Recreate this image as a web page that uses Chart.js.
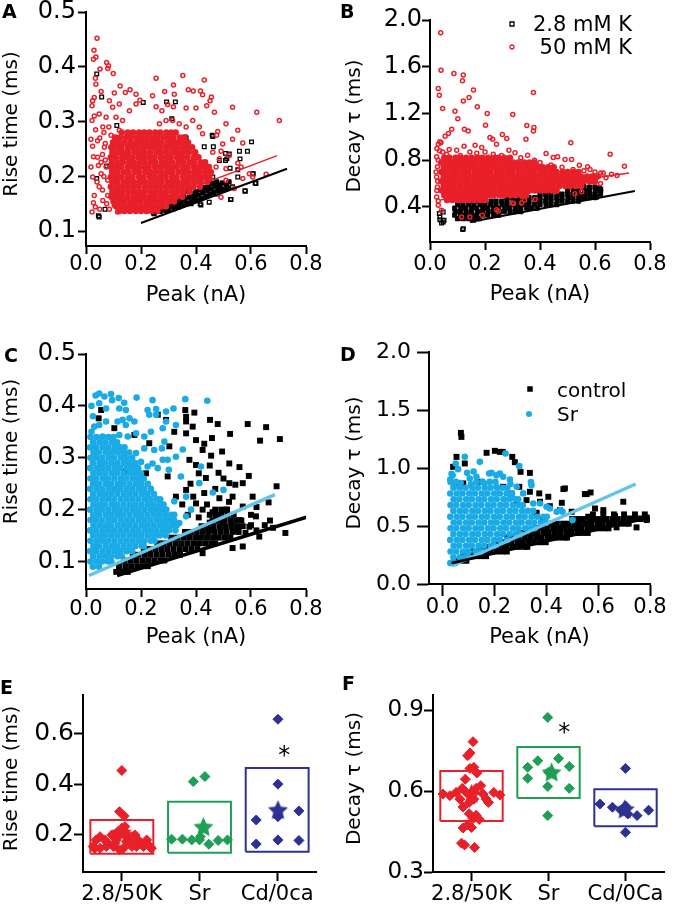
<!DOCTYPE html>
<html>
<head>
<meta charset="utf-8">
<title>Rise time and decay vs peak</title>
<script src="https://cdn.jsdelivr.net/npm/chart.js@4.4.1/dist/chart.umd.min.js"></script>
<style>
  html, body { margin: 0; padding: 0; background: #fff; }
  #fig { position: relative; width: 675px; height: 906px; overflow: hidden; }
  #fig canvas { position: absolute; left: 0; top: 0; }
</style>
</head>
<body>
<div id="fig">
  <canvas id="panelA" width="675" height="906"></canvas>
  <canvas id="panelB" width="675" height="906"></canvas>
  <canvas id="panelC" width="675" height="906"></canvas>
  <canvas id="panelD" width="675" height="906"></canvas>
  <canvas id="panelE" width="675" height="906"></canvas>
  <canvas id="panelF" width="675" height="906"></canvas>
</div>
<script>
// ---------- axis ticks / categories ----------
var peakTicks = [0, 0.2, 0.4, 0.6, 0.8];
var riseTicks = [0.1, 0.2, 0.3, 0.4, 0.5];
var decayTicksB = [0.4, 0.8, 1.2, 1.6, 2.0];
var decayTicksD = [0, 0.5, 1.0, 1.5, 2.0];
var riseTicksE = [0.2, 0.4, 0.6];
var decayTicksF = [0.3, 0.6, 0.9];
var groupTicks = [1, 2, 3];
var groupsE = ['2.8/50K', 'Sr', 'Cd/0ca'];
var groupsF = ['2.8/50K', 'Sr', 'Cd/0Ca'];

// ---------- panel A : rise time vs peak (2.8 mM K / 50 mM K) ----------
var aFitBlack = [[0.2, 0.115], [0.731, 0.214]];
var aFitRed = [[0.15, 0.134], [0.695, 0.238]];
var aBlack = [[0.039,0.387],[0.057,0.345],[0.293,0.336],[0.36,0.272],[0.459,0.275],[0.43,0.254],[0.463,0.254],[0.507,0.242],[0.512,0.232],[0.524,0.215],[0.552,0.212],[0.56,0.232],[0.587,0.246],[0.602,0.263],[0.608,0.205],[0.615,0.188],[0.578,0.174],[0.526,0.158],[0.415,0.15],[0.382,0.15],[0.291,0.15],[0.245,0.133],[0.045,0.128],[0.069,0.14],[0.039,0.196],[0.075,0.219],[0.112,0.293],[0.312,0.305],[0.208,0.335],[0.325,0.336],[0.364,0.27],[0.461,0.273],[0.558,0.246],[0.521,0.241],[0.507,0.229],[0.485,0.229],[0.461,0.199],[0.552,0.199],[0.606,0.205],[0.618,0.187],[0.579,0.173],[0.527,0.158],[0.048,0.126],[0.248,0.132],[0.339,0.147],[0.364,0.15],[0.418,0.148],[0.448,0.153],[0.473,0.168],[0.497,0.175],[0.533,0.181]];
var aBlackBand = [[0.30,0.140],[0.31,0.146],[0.32,0.141],[0.33,0.150],[0.335,0.144],[0.345,0.153],[0.35,0.147],[0.36,0.158],[0.365,0.150],[0.375,0.162],[0.38,0.152],[0.385,0.168],[0.39,0.157],[0.395,0.163],[0.40,0.172],[0.405,0.156],[0.41,0.166],[0.415,0.176],[0.42,0.160],[0.425,0.170],[0.43,0.180],[0.435,0.164],[0.44,0.174],[0.445,0.184],[0.45,0.167],[0.455,0.177],[0.46,0.187],[0.465,0.171],[0.47,0.181],[0.475,0.19],[0.48,0.174],[0.485,0.184],[0.49,0.178],[0.495,0.188],[0.50,0.176],[0.51,0.185],[0.515,0.179],[0.52,0.19],[0.37,0.173],[0.355,0.166],[0.34,0.16],[0.325,0.155],[0.31,0.153],[0.29,0.138],[0.28,0.145],[0.27,0.136],[0.26,0.142],[0.25,0.135],[0.24,0.138]];
var aRed = [[0.040,0.452],[0.029,0.430],[0.036,0.418],[0.027,0.414],[0.075,0.408],[0.082,0.402],[0.079,0.397],[0.051,0.396],[0.099,0.388],[0.034,0.379],[0.036,0.368],[0.255,0.379],[0.352,0.384],[0.430,0.376],[0.124,0.365],[0.160,0.358],[0.143,0.353],[0.055,0.355],[0.103,0.352],[0.182,0.350],[0.286,0.355],[0.318,0.367],[0.321,0.350],[0.372,0.358],[0.390,0.356],[0.416,0.356],[0.424,0.349],[0.456,0.345],[0.451,0.338],[0.242,0.347],[0.297,0.331],[0.196,0.339],[0.255,0.327],[0.276,0.320],[0.318,0.327],[0.364,0.325],[0.400,0.325],[0.439,0.329],[0.467,0.317],[0.533,0.326],[0.621,0.317],[0.703,0.302],[0.509,0.296],[0.552,0.284],[0.570,0.261],[0.533,0.268],[0.479,0.282],[0.475,0.275],[0.497,0.259],[0.491,0.246],[0.022,0.329],[0.024,0.338],[0.030,0.344],[0.048,0.314],[0.022,0.302],[0.018,0.268],[0.024,0.255],[0.027,0.236],[0.018,0.217],[0.024,0.199],[0.055,0.226],[0.048,0.181],[0.030,0.165],[0.027,0.152],[0.022,0.135],[0.034,0.144],[0.061,0.156],[0.079,0.165],[0.103,0.147],[0.115,0.135],[0.127,0.168],[0.485,0.232],[0.521,0.238],[0.552,0.224],[0.594,0.205],[0.655,0.204],[0.570,0.196],[0.539,0.178],[0.509,0.193],[0.491,0.162],[0.606,0.199],[0.388,0.302],[0.412,0.290],[0.424,0.278],[0.364,0.290],[0.339,0.296],[0.315,0.302],[0.291,0.302],[0.267,0.296],[0.182,0.332],[0.158,0.320],[0.121,0.332],[0.097,0.326],[0.085,0.338],[0.073,0.308],[0.133,0.302],[0.109,0.308],[0.061,0.290],[0.091,0.275],[0.121,0.284],[0.067,0.253],[0.042,0.265],[0.042,0.235],[0.097,0.241],[0.073,0.217],[0.055,0.205],[0.079,0.193],[0.097,0.175],[0.103,0.199],[0.115,0.223],[0.473,0.217],[0.461,0.244],[0.509,0.214],[0.564,0.217],[0.035,0.285],[0.05,0.27],[0.065,0.28],[0.06,0.24],[0.045,0.22],[0.07,0.23],[0.065,0.2],[0.04,0.19],[0.06,0.175],[0.075,0.15],[0.05,0.14],[0.085,0.14],[0.07,0.26],[0.083,0.29],[0.03,0.31]];
var aRedRowY = [0.280,0.271,0.262,0.253,0.244,0.235,0.226,0.217,0.208,0.199,0.190,0.181,0.172,0.163,0.154,0.145,0.137];
var aRedRowX = [
  [0.13,0.152,0.171,0.193,0.212,0.231,0.252,0.27,0.292,0.31,0.326],
  [0.106,0.124,0.146,0.163,0.185,0.203,0.221,0.242,0.26,0.281,0.302,0.318,0.341,0.358],
  [0.098,0.118,0.139,0.161,0.179,0.198,0.217,0.236,0.257,0.274,0.296,0.314,0.333,0.352,0.371],
  [0.092,0.111,0.129,0.152,0.17,0.188,0.209,0.229,0.248,0.268,0.289,0.308,0.327,0.349,0.366,0.386],
  [0.096,0.117,0.136,0.154,0.176,0.194,0.213,0.234,0.256,0.273,0.294,0.316,0.334,0.353,0.374,0.397],
  [0.09,0.108,0.131,0.149,0.168,0.19,0.21,0.229,0.249,0.271,0.29,0.308,0.331,0.348,0.368,0.391,0.409],
  [0.094,0.116,0.134,0.157,0.174,0.196,0.214,0.236,0.253,0.276,0.294,0.314,0.336,0.354,0.376,0.393,0.416,0.433],
  [0.091,0.109,0.128,0.151,0.171,0.189,0.211,0.228,0.251,0.269,0.291,0.309,0.329,0.351,0.369,0.391,0.41,0.428,0.447],
  [0.095,0.114,0.136,0.154,0.176,0.194,0.216,0.234,0.254,0.275,0.296,0.314,0.336,0.356,0.374,0.396,0.414,0.436,0.454],
  [0.09,0.111,0.129,0.151,0.169,0.192,0.209,0.231,0.249,0.27,0.289,0.311,0.329,0.352,0.369,0.389,0.411,0.43,0.449],
  [0.096,0.114,0.136,0.156,0.174,0.196,0.214,0.236,0.256,0.274,0.296,0.316,0.334,0.356,0.374,0.396,0.417,0.441],
  [0.09,0.112,0.13,0.149,0.171,0.19,0.212,0.229,0.251,0.269,0.291,0.31,0.331,0.349,0.371,0.39,0.414],
  [0.096,0.116,0.134,0.156,0.175,0.196,0.214,0.236,0.255,0.276,0.294,0.316,0.334,0.354,0.377],
  [0.092,0.11,0.131,0.15,0.172,0.189,0.21,0.231,0.249,0.27,0.29,0.31,0.329,0.35],
  [0.1,0.121,0.139,0.161,0.18,0.199,0.221,0.24,0.261,0.279,0.301,0.32],
  [0.11,0.13,0.151,0.17,0.19,0.211,0.229,0.25,0.27,0.29],
  [0.121,0.14,0.16,0.181,0.2,0.22,0.239,0.26]
];

// ---------- panel B : decay tau vs peak ----------
var bFitBlack = [[0.145, 0.271], [0.745, 0.537]];
var bFitRed = [[0.04, 0.462], [0.724, 0.691]];
var bBlack = [[0.119,0.206],[0.042,0.263],[0.036,0.291],[0.051,0.286],[0.034,0.343],[0.048,0.357],[0.112,0.3],[0.158,0.286],[0.145,0.329],[0.606,0.543],[0.621,0.551],[0.606,0.486],[0.555,0.571],[0.558,0.486],[0.576,0.491],[0.533,0.543],[0.606,0.557],[0.616,0.563],[0.6,0.486],[0.558,0.591],[0.57,0.486],[0.539,0.529],[0.036,0.314],[0.048,0.271],[0.121,0.214]];
var bBlackRowY = [0.30,0.33,0.36,0.39,0.42,0.45,0.48,0.51,0.54,0.57];
var bBlackRowX = [
  [0.10,0.121,0.14,0.162,0.18],
  [0.09,0.111,0.13,0.152,0.17,0.191,0.21,0.232,0.25],
  [0.092,0.11,0.131,0.15,0.172,0.19,0.211,0.23,0.252,0.27,0.291,0.31,0.33],
  [0.09,0.112,0.13,0.151,0.17,0.192,0.21,0.231,0.25,0.272,0.29,0.311,0.33,0.352,0.37,0.39],
  [0.101,0.12,0.141,0.16,0.182,0.2,0.221,0.24,0.262,0.28,0.301,0.32,0.342,0.36,0.381,0.4,0.422,0.44,0.461],
  [0.16,0.181,0.2,0.222,0.24,0.261,0.28,0.302,0.32,0.341,0.36,0.382,0.4,0.421,0.44,0.462,0.48,0.501,0.52,0.54],
  [0.28,0.301,0.32,0.342,0.36,0.381,0.4,0.422,0.44,0.461,0.48,0.502,0.52,0.541,0.56,0.582,0.6],
  [0.40,0.421,0.44,0.462,0.48,0.501,0.52,0.542,0.56,0.581,0.6,0.62],
  [0.50,0.521,0.54,0.562,0.58,0.601,0.62],
  [0.56,0.58,0.6]
];
var bRed = [[0.039,1.891],[0.040,1.571],[0.087,1.543],[0.121,1.529],[0.118,1.48],[0.030,1.414],[0.034,1.357],[0.158,1.4],[0.142,1.337],[0.121,1.306],[0.376,1.38],[0.046,1.243],[0.172,1.257],[0.208,1.2],[0.091,1.22],[0.101,1.154],[0.301,1.191],[0.202,1.1],[0.352,1.097],[0.378,1.08],[0.376,1.049],[0.349,0.98],[0.125,1.066],[0.139,1.049],[0.079,1.066],[0.067,1.029],[0.055,1.006],[0.036,0.957],[0.030,0.937],[0.218,0.994],[0.228,0.98],[0.263,1.02],[0.279,0.986],[0.242,0.937],[0.164,0.929],[0.188,0.909],[0.124,0.92],[0.512,0.949],[0.287,0.886],[0.309,0.863],[0.355,0.843],[0.422,0.857],[0.448,0.823],[0.464,0.829],[0.491,0.806],[0.515,0.806],[0.543,0.757],[0.573,0.743],[0.582,0.72],[0.6,0.657],[0.621,0.691],[0.655,0.851],[0.707,0.749],[0.533,0.68],[0.145,0.871],[0.097,0.886],[0.07,0.891],[0.046,0.871],[0.024,0.829],[0.027,0.743],[0.024,0.657],[0.027,0.571],[0.024,0.486],[0.03,0.414],[0.042,0.371],[0.145,0.314],[0.248,0.363],[0.303,0.429],[0.333,0.434],[0.461,0.534],[0.552,0.529],[0.594,0.614],[0.115,0.314],[0.19,0.329],[0.242,0.377],[0.3,0.434],[0.343,0.457],[0.382,0.463],[0.527,0.514],[0.025,0.9],[0.03,0.8],[0.022,0.7],[0.028,0.62],[0.025,0.54],[0.03,0.45],[0.035,0.88],[0.04,0.95],[0.17,0.86],[0.2,0.87],[0.23,0.85],[0.26,0.84],[0.33,0.82],[0.38,0.8],[0.4,0.78],[0.06,0.85],[0.11,0.84],[0.44,0.76],[0.48,0.74],[0.52,0.72],[0.56,0.71],[0.6,0.7],[0.63,0.69],[0.66,0.68],[0.64,0.65],[0.58,0.63],[0.62,0.6],[0.68,0.67]];
var bRedRowY = [0.82,0.78,0.74,0.70,0.66,0.62,0.58,0.54,0.50,0.46];
var bRedRowX = [
  [0.052,0.071,0.093,0.112,0.131,0.152,0.172,0.19,0.211,0.232,0.249,0.27,0.291],
  [0.041,0.062,0.081,0.102,0.121,0.142,0.161,0.182,0.201,0.222,0.241,0.262,0.281,0.302,0.321,0.342,0.361,0.38],
  [0.05,0.071,0.09,0.112,0.13,0.151,0.17,0.192,0.21,0.231,0.25,0.272,0.29,0.311,0.33,0.352,0.37,0.391,0.41,0.43,0.45],
  [0.041,0.061,0.082,0.1,0.121,0.14,0.162,0.18,0.201,0.22,0.242,0.26,0.281,0.3,0.322,0.34,0.361,0.38,0.402,0.42,0.441,0.46,0.482,0.5,0.521,0.54],
  [0.05,0.07,0.091,0.11,0.131,0.15,0.171,0.19,0.211,0.23,0.251,0.27,0.291,0.31,0.331,0.35,0.371,0.39,0.411,0.43,0.451,0.47,0.491,0.51,0.531,0.55,0.571,0.59,0.61],
  [0.041,0.062,0.08,0.101,0.122,0.14,0.161,0.182,0.2,0.221,0.242,0.26,0.281,0.302,0.32,0.341,0.362,0.38,0.401,0.422,0.44,0.461,0.482,0.5,0.521,0.542,0.56,0.58,0.6],
  [0.05,0.071,0.09,0.111,0.132,0.15,0.171,0.192,0.21,0.231,0.252,0.27,0.291,0.312,0.33,0.351,0.372,0.39,0.411,0.432,0.45,0.471,0.492,0.51,0.53,0.55],
  [0.042,0.061,0.082,0.101,0.122,0.141,0.162,0.181,0.202,0.221,0.242,0.261,0.282,0.301,0.322,0.341,0.362,0.381,0.402,0.421,0.442,0.46],
  [0.052,0.071,0.092,0.111,0.132,0.151,0.172,0.191,0.212,0.231,0.252,0.271,0.292,0.311,0.332,0.35],
  [0.062,0.081,0.102,0.121,0.142,0.161,0.182,0.2]
];

// ---------- panel C : rise time vs peak (control / Sr) ----------
var cFitBlack = [[0.113, 0.073], [0.818, 0.188]];
var cFitBlue = [[0.011, 0.073], [0.687, 0.229]];
var cBlack = [[0.046,0.376],[0.055,0.392],[0.103,0.357],[0.176,0.344],[0.261,0.383],[0.291,0.373],[0.361,0.392],[0.364,0.379],[0.394,0.387],[0.364,0.37],[0.388,0.36],[0.451,0.373],[0.479,0.365],[0.588,0.365],[0.655,0.359],[0.524,0.346],[0.458,0.338],[0.633,0.333],[0.705,0.336],[0.43,0.327],[0.424,0.315],[0.455,0.304],[0.495,0.312],[0.364,0.347],[0.4,0.334],[0.321,0.35],[0.23,0.328],[0.303,0.322],[0.376,0.296],[0.4,0.286],[0.521,0.289],[0.558,0.282],[0.592,0.265],[0.482,0.271],[0.436,0.261],[0.521,0.251],[0.543,0.248],[0.57,0.251],[0.693,0.245],[0.606,0.225],[0.664,0.214],[0.618,0.187],[0.669,0.179],[0.725,0.155],[0.533,0.225],[0.485,0.222],[0.57,0.206],[0.43,0.232],[0.4,0.212],[0.364,0.238],[0.297,0.264],[0.218,0.27],[0.327,0.225],[0.424,0.2],[0.473,0.187],[0.497,0.174],[0.558,0.18],[0.594,0.167],[0.57,0.129],[0.533,0.126],[0.63,0.148],[0.461,0.161],[0.424,0.116],[0.17,0.283],[0.145,0.273],[0.38,0.25],[0.41,0.27],[0.45,0.285],[0.47,0.24],[0.5,0.26],[0.44,0.21],[0.46,0.195],[0.51,0.2],[0.52,0.215],[0.39,0.225],[0.35,0.21],[0.37,0.19],[0.41,0.185],[0.45,0.175],[0.53,0.17],[0.6,0.19],[0.62,0.205],[0.65,0.17],[0.58,0.155],[0.62,0.16],[0.68,0.165],[0.55,0.16],[0.6,0.17]];
var cBlackRowY = [0.080,0.091,0.102,0.113,0.124,0.135,0.146,0.157,0.168,0.179,0.19,0.2];
var cBlackRowX = [
  [0.11,0.131,0.152],
  [0.12,0.143,0.164,0.186,0.207,0.225],
  [0.14,0.162,0.183,0.205,0.226,0.248,0.27,0.285],
  [0.17,0.191,0.214,0.235,0.257,0.278,0.3,0.321,0.342],
  [0.21,0.232,0.253,0.275,0.296,0.318,0.34,0.361,0.383,0.405],
  [0.26,0.281,0.303,0.325,0.346,0.368,0.39,0.411,0.433,0.455,0.47],
  [0.31,0.332,0.354,0.375,0.397,0.418,0.44,0.462,0.483,0.505,0.525],
  [0.36,0.381,0.403,0.425,0.446,0.468,0.49,0.511,0.533,0.555],
  [0.42,0.441,0.463,0.485,0.506,0.528,0.55,0.57],
  [0.46,0.482,0.503,0.525,0.546,0.565],
  [0.45,0.472,0.493,0.515,0.537],
  [0.47,0.492,0.513]
];
var cBlue = [[0.048,0.424],[0.067,0.418],[0.091,0.423],[0.095,0.411],[0.119,0.415],[0.139,0.406],[0.184,0.416],[0.242,0.411],[0.361,0.413],[0.441,0.41],[0.048,0.405],[0.073,0.395],[0.121,0.395],[0.145,0.392],[0.224,0.392],[0.255,0.394],[0.291,0.389],[0.318,0.395],[0.255,0.383],[0.23,0.383],[0.133,0.373],[0.158,0.376],[0.176,0.37],[0.145,0.363],[0.115,0.37],[0.073,0.37],[0.048,0.363],[0.291,0.37],[0.327,0.363],[0.279,0.357],[0.236,0.35],[0.212,0.341],[0.182,0.347],[0.152,0.341],[0.121,0.344],[0.097,0.338],[0.061,0.341],[0.285,0.331],[0.276,0.318],[0.352,0.316],[0.248,0.315],[0.212,0.318],[0.182,0.309],[0.133,0.315],[0.097,0.312],[0.327,0.302],[0.297,0.296],[0.279,0.296],[0.242,0.289],[0.261,0.28],[0.301,0.277],[0.418,0.283],[0.345,0.264],[0.412,0.251],[0.461,0.233],[0.5,0.238],[0.364,0.225],[0.321,0.216],[0.382,0.2],[0.364,0.187],[0.339,0.174],[0.321,0.19],[0.224,0.283],[0.2,0.292],[0.02,0.4],[0.025,0.38],[0.03,0.36],[0.02,0.35],[0.035,0.42]];
var cBlueRowY = [0.34,0.33,0.32,0.31,0.30,0.29,0.28,0.27,0.26,0.25,0.24,0.23,0.22,0.21,0.20,0.19,0.18,0.17,0.16,0.15,0.14,0.13,0.12,0.11,0.10,0.09];
var cBlueRowX = [
  [0.016,0.038,0.058,0.082,0.1],
  [0.026,0.049,0.07,0.093,0.113],
  [0.015,0.036,0.06,0.081,0.104,0.124,0.14],
  [0.027,0.047,0.071,0.091,0.115,0.136,0.157],
  [0.016,0.037,0.059,0.082,0.102,0.126,0.146,0.168],
  [0.025,0.049,0.069,0.092,0.114,0.137,0.157,0.179],
  [0.015,0.038,0.058,0.081,0.104,0.125,0.148,0.168,0.19],
  [0.027,0.048,0.07,0.093,0.113,0.136,0.159,0.18,0.2],
  [0.016,0.036,0.06,0.08,0.103,0.126,0.147,0.17,0.19,0.21],
  [0.026,0.047,0.071,0.091,0.115,0.135,0.158,0.181,0.202,0.225],
  [0.015,0.038,0.059,0.082,0.103,0.124,0.147,0.169,0.192,0.212,0.236],
  [0.026,0.049,0.07,0.092,0.114,0.137,0.158,0.18,0.203,0.224,0.247],
  [0.016,0.037,0.06,0.081,0.102,0.126,0.148,0.169,0.191,0.214,0.235,0.257,0.27],
  [0.027,0.048,0.069,0.093,0.113,0.136,0.159,0.18,0.202,0.225,0.246,0.268,0.282],
  [0.015,0.038,0.058,0.081,0.104,0.125,0.147,0.17,0.191,0.213,0.236,0.258,0.279,0.292],
  [0.026,0.047,0.071,0.092,0.114,0.135,0.158,0.181,0.202,0.224,0.247,0.268,0.29,0.31],
  [0.016,0.036,0.059,0.082,0.103,0.126,0.148,0.169,0.192,0.213,0.235,0.258,0.28,0.301,0.32],
  [0.027,0.049,0.07,0.091,0.115,0.137,0.158,0.18,0.203,0.224,0.246,0.269,0.29,0.312,0.33],
  [0.015,0.037,0.06,0.081,0.102,0.125,0.147,0.17,0.191,0.214,0.236,0.257,0.28,0.302,0.325],
  [0.026,0.048,0.069,0.092,0.114,0.136,0.159,0.181,0.202,0.225,0.247,0.268,0.29],
  [0.016,0.038,0.059,0.08,0.103,0.126,0.148,0.17,0.192,0.213,0.236,0.25],
  [0.027,0.047,0.071,0.093,0.113,0.136,0.158,0.18,0.203,0.21],
  [0.015,0.036,0.06,0.082,0.104,0.125,0.147,0.168],
  [0.026,0.049,0.07,0.091,0.114,0.13],
  [0.016,0.038,0.058,0.08,0.092],
  [0.025,0.047]
];

// ---------- panel D : decay tau vs peak (control / Sr) ----------
var dFitBlack = [[0.035, 0.18], [0.795, 0.57]];
var dFitBlue = [[0.035, 0.155], [0.745, 0.862]];
var dBlack = [[0.071,1.303],[0.073,1.268],[0.054,1.096],[0.086,1.039],[0.17,1.131],[0.202,1.148],[0.232,1.139],[0.269,1.096],[0.301,0.967],[0.337,0.958],[0.296,0.838],[0.337,0.795],[0.373,0.781],[0.408,0.752],[0.466,0.818],[0.556,0.775],[0.571,0.789],[0.697,0.709],[0.588,0.651],[0.562,0.58],[0.665,0.585],[0.671,0.488],[0.723,0.565],[0.761,0.565],[0.498,0.623],[0.453,0.637],[0.324,0.723],[0.286,0.694],[0.234,0.838],[0.15,0.881],[0.08,0.867],[0.048,0.852],[0.041,1.01],[0.363,0.614],[0.388,0.551],[0.466,0.494],[0.517,0.522],[0.614,0.551],[0.646,0.522],[0.748,0.488],[0.787,0.551],[0.221,1.139],[0.279,1.05],[0.472,0.824],[0.549,0.775],[0.46,0.7],[0.414,0.671],[0.376,0.709],[0.266,0.78],[0.62,0.637],[0.787,0.574]];
var dBlackRowY = [0.20,0.24,0.28,0.32,0.36,0.40,0.44,0.48,0.52,0.56,0.60];
var dBlackRowX = [
  [0.05,0.071,0.092],
  [0.08,0.103,0.124,0.147,0.168],
  [0.12,0.141,0.165,0.186,0.209,0.23,0.248],
  [0.16,0.183,0.204,0.227,0.248,0.271,0.292,0.315,0.327],
  [0.2,0.221,0.245,0.266,0.289,0.31,0.333,0.354,0.377,0.398],
  [0.25,0.273,0.294,0.317,0.338,0.361,0.382,0.405,0.426,0.449,0.47,0.48],
  [0.3,0.321,0.345,0.366,0.389,0.41,0.433,0.454,0.477,0.498,0.521,0.542,0.56],
  [0.36,0.383,0.404,0.427,0.448,0.471,0.492,0.515,0.536,0.559,0.58,0.603,0.624,0.64],
  [0.42,0.441,0.465,0.486,0.509,0.53,0.553,0.574,0.597,0.618,0.641,0.662,0.685,0.706,0.718],
  [0.5,0.523,0.544,0.567,0.588,0.611,0.632,0.655,0.676,0.699,0.72,0.743,0.764,0.79],
  [0.58,0.62,0.661,0.7,0.742,0.78]
];
var dBlue = [[0.051,1.039],[0.086,1.096],[0.243,1.125],[0.296,1.016],[0.262,0.861],[0.343,0.852],[0.376,0.694],[0.414,0.651],[0.455,0.637],[0.501,0.551],[0.039,0.938],[0.044,0.838],[0.095,0.958],[0.105,0.91],[0.131,0.924],[0.18,0.953],[0.208,0.938],[0.234,0.924],[0.161,0.867],[0.208,0.838],[0.286,0.838],[0.311,0.781],[0.266,0.752],[0.35,0.694],[0.401,0.666],[0.44,0.623],[0.341,0.878],[0.26,0.9],[0.463,0.623],[0.144,1.053],[0.189,0.958],[0.221,0.953],[0.03,0.9],[0.035,0.95],[0.06,0.99],[0.11,0.86],[0.12,0.97],[0.07,0.87]];
var dBlueRowY = [0.88,0.83,0.78,0.73,0.68,0.63,0.58,0.53,0.48,0.43,0.38,0.33,0.28,0.23,0.18];
var dBlueRowX = [
  [0.031,0.052,0.131,0.154,0.182,0.204],
  [0.042,0.067,0.089,0.115,0.137,0.163,0.185,0.211,0.233,0.25],
  [0.03,0.055,0.077,0.103,0.125,0.151,0.173,0.199,0.221,0.247,0.268],
  [0.043,0.065,0.091,0.113,0.139,0.161,0.187,0.209,0.235,0.257,0.281,0.292],
  [0.031,0.053,0.079,0.101,0.127,0.149,0.175,0.197,0.223,0.245,0.271,0.293,0.31],
  [0.042,0.067,0.089,0.115,0.137,0.163,0.185,0.211,0.233,0.259,0.281,0.307,0.329,0.35],
  [0.03,0.055,0.077,0.103,0.125,0.151,0.173,0.199,0.221,0.247,0.269,0.295,0.317,0.343,0.365,0.389,0.402],
  [0.043,0.065,0.091,0.113,0.139,0.161,0.187,0.209,0.235,0.257,0.283,0.305,0.331,0.353,0.379,0.398],
  [0.031,0.053,0.079,0.101,0.127,0.149,0.175,0.197,0.223,0.245,0.271,0.293,0.319,0.341,0.355],
  [0.042,0.067,0.089,0.115,0.137,0.163,0.185,0.211,0.233,0.259,0.281,0.3],
  [0.03,0.055,0.077,0.103,0.125,0.151,0.173,0.199,0.221,0.249],
  [0.043,0.065,0.091,0.113,0.139,0.161,0.187,0.2],
  [0.031,0.053,0.079,0.101,0.127,0.149],
  [0.042,0.067,0.089,0.1],
  [0.03,0.05]
];

// ---------- panels E / F : per-cell means ----------
var eRed = [[1.0,0.455],[0.97,0.292],[1.03,0.275],[0.63,0.154],[0.67,0.18],[0.72,0.193],[0.78,0.18],[0.82,0.167],[0.87,0.2],[0.91,0.193],[0.95,0.213],[1.0,0.226],[1.04,0.233],[1.05,0.207],[1.08,0.187],[1.13,0.193],[1.17,0.2],[1.21,0.18],[1.25,0.167],[1.32,0.18],[1.36,0.154],[1.38,0.147],[1.02,0.147],[0.97,0.141],[0.89,0.154],[0.8,0.154],[0.72,0.147],[0.65,0.147],[0.93,0.18],[1.13,0.154],[1.19,0.154],[1.28,0.154],[1.34,0.16],[1.06,0.173],[1.15,0.173],[0.91,0.167]];
var eGreen = [[1.92,0.411],[2.07,0.431],[1.64,0.183],[1.78,0.183],[1.9,0.18],[2.01,0.193],[2.12,0.163],[2.24,0.178],[2.36,0.18],[2.0,0.18]];
var eNavy = [[3.01,0.658],[3.01,0.401],[2.73,0.259],[3.28,0.295],[2.73,0.164],[3.01,0.18],[3.28,0.178],[3.01,0.272]];
var eBoxLow = [0.125, 0.129, 0.133];
var eBoxHigh = [0.259, 0.331, 0.465];
var eMeanX = [1.0, 2.05, 3.01];
var eMeanY = [0.21, 0.232, 0.299];
var eSignif = [[3.09, 0.537]];

var fRed = [[1.02,0.783],[0.98,0.741],[0.95,0.731],[1.03,0.688],[0.98,0.684],[1.07,0.667],[0.92,0.644],[0.63,0.589],[0.72,0.583],[0.8,0.595],[0.88,0.61],[0.93,0.595],[0.85,0.57],[1.0,0.595],[1.06,0.61],[1.12,0.62],[1.15,0.589],[1.19,0.57],[1.22,0.558],[1.29,0.595],[1.37,0.585],[1.03,0.57],[0.97,0.558],[0.89,0.541],[0.97,0.516],[1.06,0.51],[1.02,0.498],[1.1,0.495],[0.95,0.474],[0.89,0.463],[1.0,0.465],[0.87,0.407],[1.04,0.391],[0.91,0.4]];
var fGreen = [[1.99,0.873],[1.73,0.688],[1.86,0.712],[2.13,0.721],[2.27,0.691],[1.73,0.647],[1.99,0.617],[2.27,0.61],[1.99,0.509],[2.0,0.67]];
var fNavy = [[3.0,0.684],[2.67,0.552],[2.83,0.54],[2.94,0.529],[3.03,0.515],[3.15,0.509],[3.3,0.529],[3.0,0.447],[3.0,0.545]];
var fBoxLow = [0.489, 0.574, 0.470];
var fBoxHigh = [0.674, 0.763, 0.607];
var fMeanX = [1.0, 2.04, 2.99];
var fMeanY = [0.59, 0.67, 0.533];
var fSignif = [[2.205, 0.838]];

// ---------- styling ----------
var FONT = 'DejaVu Sans';
var RED = '#e8202a', BLACK = '#000000', BLUE = '#1aabe6', LBLUE = '#63c4e8', GREEN = '#1f9e55', NAVY = '#2d3192';
Chart.defaults.font.family = FONT;
Chart.defaults.color = '#000';

function pts(list) {
  return list.map(function (p) { return {x: p[0], y: p[1]}; });
}
function rows(ys, xs) {
  var out = [];
  for (var i = 0; i < ys.length; i++) {
    for (var j = 0; j < xs[i].length; j++) out.push({x: xs[i][j], y: ys[i]});
  }
  return out;
}
function lift(text, n) {
  return '\u2002'.repeat(n) + text;
}

function dots(data, style, r, color, filled, bw, order) {
  return {
    data: data, showLine: false, order: order,
    pointStyle: style, pointRadius: r, pointBorderWidth: bw,
    pointBorderColor: color, pointBackgroundColor: filled ? color : 'rgba(0,0,0,0)'
  };
}
function line(data, color, w, order) {
  return {data: data, showLine: true, borderColor: color, borderWidth: w, pointRadius: 0, order: order, fill: false};
}
function boxes(centers, lo, hi, colors) {
  return centers.map(function (c, i) {
    var d = [[c - 0.405, lo[i]], [c + 0.405, lo[i]], [c + 0.405, hi[i]], [c - 0.405, hi[i]], [c - 0.405, lo[i]]];
    return line(pts(d), colors[i], 2, 3);
  });
}
function starImage(color, r) {
  var c = document.createElement('canvas');
  var s = Math.ceil(2 * r + 2);
  c.width = s; c.height = s;
  var g = c.getContext('2d');
  g.fillStyle = color;
  g.beginPath();
  for (var i = 0; i < 10; i++) {
    var a = -Math.PI / 2 + i * Math.PI / 5;
    var rr = i % 2 ? r * 0.48 : r;
    g.lineTo(s / 2 + rr * Math.cos(a), s / 2 + rr * Math.sin(a) + r * 0.08);
  }
  g.closePath();
  g.fill();
  return c;
}
function stars(xs, ys, colors) {
  return xs.map(function (x, i) {
    return {data: [{x: x, y: ys[i]}], showLine: false, order: 1, pointRadius: 10,
      pointStyle: starImage(colors[i], 10.5)};
  });
}

// letters, legends and significance marks
var deco = {
  id: 'deco',
  afterDraw: function (chart, args, o) {
    var ctx = chart.ctx;
    ctx.save();
    ctx.textBaseline = 'alphabetic';
    if (o.letter) {
      ctx.fillStyle = '#000';
      ctx.font = 'bold 19px ' + FONT;
      ctx.textAlign = 'left';
      ctx.fillText(o.letter.t, o.letter.x, o.letter.y);
    }
    (o.legend || []).forEach(function (it) {
      ctx.beginPath();
      if (it.shape === 'square') ctx.rect(it.mx - it.s / 2, it.my - it.s / 2, it.s, it.s);
      else ctx.arc(it.mx, it.my, it.s / 2, 0, Math.PI * 2);
      if (it.filled) { ctx.fillStyle = it.color; ctx.fill(); }
      else { ctx.strokeStyle = it.color; ctx.lineWidth = 1.3; ctx.stroke(); }
      ctx.fillStyle = '#000';
      ctx.font = it.size + 'px ' + FONT;
      ctx.textAlign = it.align;
      ctx.fillText(it.text, it.tx, it.ty);
    });
    (o.notes || []).forEach(function (n) {
      var px = chart.scales.x.getPixelForValue(n[0]);
      var py = chart.scales.y.getPixelForValue(n[1]);
      ctx.fillStyle = '#000';
      ctx.font = '24px ' + FONT;
      ctx.textAlign = 'center';
      ctx.fillText('*', px, py + 13);
    });
    ctx.restore();
  }
};

function makePanel(id, p) {
  var padLeft = p.yTitleX - p.yTitleSize / 2;
  var xH = p.xTitle ? p.xTitleY - p.area.b + p.xTitleSize / 2 : 34;
  return new Chart(document.getElementById(id), {
    type: 'scatter',
    data: {datasets: p.datasets},
    options: {
      responsive: false,
      animation: false,
      events: [],
      layout: {padding: {left: padLeft, top: p.area.t, right: 675 - p.area.r, bottom: 906 - p.area.b - xH}},
      plugins: {legend: {display: false}, tooltip: {enabled: false}, deco: p.deco},
      scales: {
        x: {
          type: 'linear', min: p.xMin, max: p.xMax,
          afterBuildTicks: function (s) { s.ticks = p.xTicks.map(function (v) { return {value: v}; }); },
          afterFit: function (s) { s.height = xH; s.paddingLeft = 0; s.paddingRight = 0; },
          border: {display: true, color: '#000', width: 2},
          grid: {display: true, drawOnChartArea: false, drawTicks: true, tickLength: p.tick, tickWidth: 2, tickColor: '#000'},
          ticks: {font: {size: 21, lineHeight: 1}, color: '#000', padding: p.xPad, maxRotation: 0, autoSkip: false, callback: p.xLabel},
          title: {display: !!p.xTitle, text: p.xTitle, color: '#000', font: {size: p.xTitleSize, lineHeight: 1}, padding: 0}
        },
        y: {
          type: 'linear', min: p.yMin, max: p.yMax,
          afterBuildTicks: function (s) { s.ticks = p.yTicks.map(function (v) { return {value: v}; }); },
          afterFit: function (s) { s.width = p.area.l - padLeft; s.paddingTop = 0; s.paddingBottom = 0; },
          border: {display: true, color: '#000', width: 2},
          grid: {display: true, drawOnChartArea: false, drawTicks: true, tickLength: p.tick, tickWidth: 2, tickColor: '#000'},
          ticks: {font: {size: p.ySize, lineHeight: 1}, color: '#000', padding: p.yPad, autoSkip: false,
            callback: function (v) { return Number(v).toFixed(1); }},
          title: {display: true, text: p.yTitle, color: '#000', font: {size: p.yTitleSize, lineHeight: 1}, padding: 0}
        }
      }
    },
    plugins: [deco]
  });
}

function peakLabel(v) { return Number(v).toFixed(1); }

// A
makePanel('panelA', {
  area: {l: 86, t: 12, r: 306, b: 246}, xMin: 0, xMax: 0.8, yMin: 0.073, yMax: 0.5,
  xTicks: peakTicks, yTicks: riseTicks, xLabel: peakLabel,
  xTitle: 'Peak (nA)', xTitleY: 296, xTitleSize: 21,
  yTitle: lift('Rise time (ms)', 1), yTitleX: 11.4, yTitleSize: 20,
  tick: 8, xPad: 0, yPad: 2, ySize: 24,
  deco: {letter: {t: 'A', x: 2, y: 18}},
  datasets: [
    line(pts(aFitBlack), BLACK, 2, 0),
    line(pts(aFitRed), RED, 1.5, 0),
    dots(pts(aRed), 'circle', 2, RED, false, 1.5, 2),
    dots(rows(aRedRowY, aRedRowX), 'circle', 2.6, RED, true, 1.3, 2),
    dots(pts(aBlack), 'rect', 2.6, BLACK, false, 1.3, 3),
    dots(pts(aBlackBand), 'rect', 3, BLACK, true, 1, 3)
  ]
});

// B
makePanel('panelB', {
  area: {l: 430, t: 20, r: 650, b: 242}, xMin: 0, xMax: 0.8, yMin: 0.1, yMax: 2.0,
  xTicks: peakTicks, yTicks: decayTicksB, xLabel: peakLabel,
  xTitle: 'Peak (nA)', xTitleY: 295, xTitleSize: 21,
  yTitle: lift('Decay \u03c4 (ms)', 1), yTitleX: 355, yTitleSize: 20,
  tick: 8, xPad: 4, yPad: 0, ySize: 24,
  deco: {
    letter: {t: 'B', x: 340, y: 18},
    legend: [
      {shape: 'square', filled: false, color: BLACK, s: 4, mx: 512, my: 24, text: '2.8 mM K', tx: 632, ty: 31, align: 'right', size: 21},
      {shape: 'circle', filled: false, color: RED, s: 4, mx: 512, my: 47, text: '50 mM K', tx: 632, ty: 53.5, align: 'right', size: 21}
    ]
  },
  datasets: [
    line(pts(bFitBlack), BLACK, 2, 0),
    line(pts(bFitRed), RED, 1.5, 0),
    dots(pts(bRed), 'circle', 2, RED, false, 1.5, 2),
    dots(rows(bRedRowY, bRedRowX), 'circle', 2.6, RED, true, 1.3, 2),
    dots(pts(bBlack), 'rect', 2.6, BLACK, false, 1.3, 3),
    dots(rows(bBlackRowY, bBlackRowX), 'rect', 3, BLACK, true, 1, 3)
  ]
});

// C
makePanel('panelC', {
  area: {l: 86, t: 354, r: 306, b: 589}, xMin: 0, xMax: 0.8, yMin: 0.047, yMax: 0.5,
  xTicks: peakTicks, yTicks: riseTicks, xLabel: peakLabel,
  xTitle: 'Peak (nA)', xTitleY: 638, xTitleSize: 21,
  yTitle: lift('Rise time (ms)', 4), yTitleX: 11.4, yTitleSize: 20,
  tick: 8, xPad: 2, yPad: 2, ySize: 24,
  deco: {letter: {t: 'C', x: 4, y: 362}},
  datasets: [
    line(pts(cFitBlack), BLACK, 3.5, 0),
    line(pts(cFitBlue), LBLUE, 3.5, 0),
    dots(pts(cBlue).concat(rows(cBlueRowY, cBlueRowX)), 'circle', 3.3, BLUE, true, 0, 2),
    dots(pts(cBlack).concat(rows(cBlackRowY, cBlackRowX)), 'rect', 4.2, BLACK, true, 0, 3)
  ]
});

// D
makePanel('panelD', {
  area: {l: 429, t: 352, r: 650, b: 584}, xMin: -0.052, xMax: 0.8, yMin: 0, yMax: 2.0,
  xTicks: peakTicks, yTicks: decayTicksD, xLabel: peakLabel,
  xTitle: 'Peak (nA)', xTitleY: 638, xTitleSize: 21,
  yTitle: lift('Decay \u03c4 (ms)', 1), yTitleX: 355, yTitleSize: 20,
  tick: 12, xPad: 1, yPad: 6, ySize: 22,
  deco: {
    letter: {t: 'D', x: 340, y: 361},
    legend: [
      {shape: 'square', filled: true, color: BLACK, s: 5.5, mx: 530, my: 389, text: 'control', tx: 557, ty: 397, align: 'left', size: 20},
      {shape: 'circle', filled: true, color: BLUE, s: 6, mx: 529, my: 414, text: 'Sr', tx: 557, ty: 421, align: 'left', size: 20}
    ]
  },
  datasets: [
    line(pts(dFitBlack), BLACK, 3, 0),
    line(pts(dFitBlue), LBLUE, 3.5, 0),
    dots(pts(dBlue).concat(rows(dBlueRowY, dBlueRowX)), 'circle', 3.3, BLUE, true, 0, 2),
    dots(pts(dBlack).concat(rows(dBlackRowY, dBlackRowX)), 'rect', 4.2, BLACK, true, 0, 3)
  ]
});

// E
makePanel('panelE', {
  area: {l: 83, t: 695, r: 316, b: 872}, xMin: 0.5, xMax: 3.5, yMin: 0.053, yMax: 0.754,
  xTicks: groupTicks, yTicks: riseTicksE, xLabel: function (v) { return groupsE[v - 1]; },
  xTitle: '', yTitle: lift('Rise time (ms)', 1), yTitleX: 11.4, yTitleSize: 20, xTitleSize: 21,
  tick: 9, xPad: 3, yPad: 0, ySize: 25,
  deco: {letter: {t: 'E', x: 0, y: 694}, notes: eSignif},
  datasets: boxes(groupTicks, eBoxLow, eBoxHigh, [RED, GREEN, NAVY]).concat([
    dots(pts(eRed), 'rectRot', 5, RED, true, 1, 2),
    dots(pts(eGreen), 'rectRot', 5, GREEN, true, 1, 2),
    dots(pts(eNavy), 'rectRot', 5, NAVY, true, 1, 2)
  ]).concat(stars(eMeanX, eMeanY, [RED, GREEN, NAVY]))
});

// F
makePanel('panelF', {
  area: {l: 433, t: 695, r: 667, b: 872}, xMin: 0.5, xMax: 3.5, yMin: 0.3, yMax: 0.956,
  xTicks: groupTicks, yTicks: decayTicksF, xLabel: function (v) { return groupsF[v - 1]; },
  xTitle: '', yTitle: lift('Decay \u03c4 (ms)', 1), yTitleX: 355, yTitleSize: 20, xTitleSize: 21,
  tick: 9, xPad: 3, yPad: 0, ySize: 23,
  deco: {letter: {t: 'F', x: 342, y: 690}, notes: fSignif},
  datasets: boxes(groupTicks, fBoxLow, fBoxHigh, [RED, GREEN, NAVY]).concat([
    dots(pts(fRed), 'rectRot', 5, RED, true, 1, 2),
    dots(pts(fGreen), 'rectRot', 5, GREEN, true, 1, 2),
    dots(pts(fNavy), 'rectRot', 5, NAVY, true, 1, 2)
  ]).concat(stars(fMeanX, fMeanY, [RED, GREEN, NAVY]))
});
</script>
</body>
</html>
